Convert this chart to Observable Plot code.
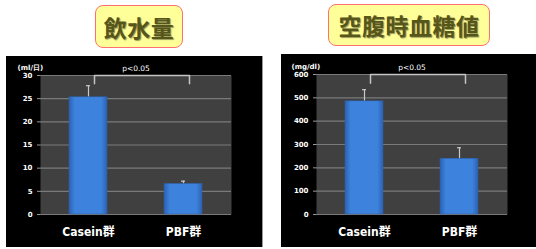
<!DOCTYPE html>
<html><head><meta charset="utf-8">
<script src="https://cdn.jsdelivr.net/npm/d3@7"></script>
<script src="https://cdn.jsdelivr.net/npm/@observablehq/plot@0.6"></script>
<style>
html,body{margin:0;padding:0;background:#fff;}
#root{position:relative;width:536px;height:249px;overflow:hidden;}
.panel{position:absolute;background:#000;}
.title{position:absolute;box-sizing:border-box;background:#ffff99;border:1.5px solid #ff7070;border-radius:8px;
  font-family:"Noto Sans CJK JP",sans-serif;font-weight:bold;color:#56561a;font-size:23px;
  display:flex;align-items:center;justify-content:center;text-shadow:1px 1px 1px rgba(0,0,0,0.4);letter-spacing:0.5px;}
.chart{position:absolute;}
</style></head>
<body><div id="root">
<div class="title" style="left:95px;top:5px;width:88px;height:43px;">飲水量</div>
<div class="title" style="left:328px;top:4px;width:162px;height:42px;">空腹時血糖値</div>
<div class="panel" style="left:6px;top:56px;width:256px;height:191px;border-right:1px solid #999;"></div>
<div class="panel" style="left:281px;top:54px;width:255px;height:193px;"></div>
<div class="chart" id="c1" style="left:6px;top:56px;"></div>
<div class="chart" id="c2" style="left:281px;top:54px;"></div>
</div>
<script>
const categories = ["Casein群", "PBF群"];
const waterMeans = [25.3, 6.6];
const waterErr = [2.5, 0.6];
const waterTicks = [0, 5, 10, 15, 20, 25, 30];
const waterUnit = "(ml/日)";
const waterBracket = [28.2, 30];
const glucoseMeans = [485, 239];
const glucoseErr = [50, 47];
const glucoseTicks = [0, 100, 200, 300, 400, 500, 600];
const glucoseUnit = "(mg/dl)";
const glucoseBracket = [563, 600];
const pLabel = "p<0.05";

function makeChart(id, means, errs, ticks, unit, bracket, opts) {
  const data = categories.map((c, i) => ({cat: c, v: means[i], e: errs[i], top: means[i] + errs[i]}));
  const br = [
    {cat: categories[0], y: bracket[0]},
    {cat: categories[0], y: bracket[1]},
    {cat: categories[1], y: bracket[1]},
    {cat: categories[1], y: bracket[0]}
  ];
  const gid = "grad_" + id;
  const chart = Plot.plot({
    width: opts.width, height: opts.height,
    marginLeft: opts.ml, marginRight: opts.mr, marginTop: opts.mt, marginBottom: opts.mb,
    style: {background: "transparent", fontFamily: "'DejaVu Sans', sans-serif"},
    x: {domain: categories, paddingInner: 0.6, paddingOuter: 0.3},
    y: {domain: [ticks[0], ticks[ticks.length - 1]]},
    marks: [
      Plot.frame({fill: "#404040", stroke: null}),
      Plot.ruleY(ticks, {stroke: "#7a7a7a", strokeWidth: 1.2}),
      Plot.ruleX(data, {x: "cat", y1: "v", y2: "top", stroke: "#c8c8c8", strokeWidth: 1.2}),
      Plot.tickY(data, {x: "cat", y: "top", stroke: "#c8c8c8", strokeWidth: 1.2, insetLeft: 17, insetRight: 17}),
      Plot.barY(data, {x: "cat", y: "v", fill: `url(#${gid})`, stroke: "#2d5ea8", strokeWidth: 0.5}),
      Plot.line(br, {x: "cat", y: "y", stroke: "#c4c4c4", strokeWidth: 1.5, dx: 6}),
      Plot.axisY({ticks: ticks, tickSize: 3, tickPadding: 5, stroke: "#999", fill: "white", fontSize: 7, fontWeight: "bold", label: null}),
      Plot.axisX({tickSize: 0, tickPadding: 13, fill: "white", fontSize: 12, fontWeight: "bold",
        fontFamily: "'DejaVu Sans Condensed', 'Noto Sans CJK JP', sans-serif", label: null}),
      Plot.text([pLabel], {frameAnchor: "top", dy: -10, fill: "white", fontSize: 7.5}),
      Plot.text([unit], {frameAnchor: "top-left", textAnchor: "start", dx: opts.udx, dy: -10, fill: "white", fontSize: 7, fontWeight: "bold"})
    ]
  });
  const defs = d3.select(chart).insert("defs", ":first-child");
  const g = defs.append("linearGradient").attr("id", gid).attr("x1", "0").attr("x2", "1").attr("y1", "0").attr("y2", "0");
  g.append("stop").attr("offset", "0%").attr("stop-color", "#2c62b4");
  g.append("stop").attr("offset", "15%").attr("stop-color", "#3d82dc");
  g.append("stop").attr("offset", "85%").attr("stop-color", "#3d82dc");
  g.append("stop").attr("offset", "100%").attr("stop-color", "#2c62b4");
  document.getElementById(id).appendChild(chart);
}

makeChart("c1", waterMeans, waterErr, waterTicks, waterUnit, waterBracket,
  {width: 256, height: 191, ml: 34, mr: 31, mt: 19, mb: 33, udx: -23});
makeChart("c2", glucoseMeans, glucoseErr, glucoseTicks, glucoseUnit, glucoseBracket,
  {width: 255, height: 193, ml: 35, mr: 29, mt: 20, mb: 33, udx: -25});
</script>
</body></html>
